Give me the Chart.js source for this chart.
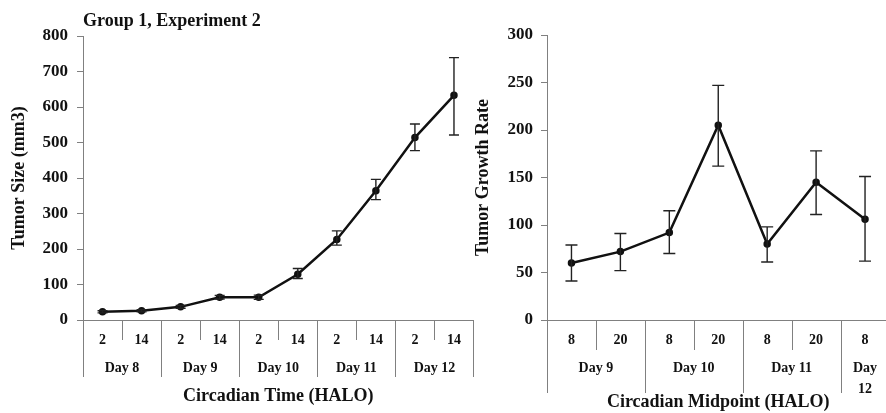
<!DOCTYPE html>
<html><head><meta charset="utf-8">
<script src="https://cdn.jsdelivr.net/npm/chart.js@4/dist/chart.umd.min.js"></script>
<style>
html,body{margin:0;padding:0;background:#fff;overflow:hidden;width:886px;height:413px;position:relative;}
#c1{position:absolute;left:0;top:0;}
#c2{position:absolute;left:460px;top:0;}
</style></head><body>
<canvas id="c1" width="480" height="413"></canvas>
<canvas id="c2" width="436" height="413"></canvas>
<script>
// ---- Left chart data: Tumor size ----
const sizeHours = ['2','14','2','14','2','14','2','14','2','14'];
const sizeDays = ['Day 8','Day 9','Day 10','Day 11','Day 12'];
const sizeDaySpans = [2,2,2,2,2];
const sizeMean = [23,26,37,64,64,129,227,364,514,633];
const sizeLow  = [20,23,33,59,58,117,211,339,477,521];
const sizeHigh = [26,29,41,69,70,145,251,396,552,739];

// ---- Right chart data: Tumor growth rate ----
const rateHours = ['8','20','8','20','8','20','8'];
const rateDays = ['Day 9','Day 10','Day 11',['Day','12']];
const rateDaySpans = [2,2,2,1];
const rateMean = [60,72,92,205,80,145,106];
const rateLow  = [41,52,70,162,61,111,62];
const rateHigh = [79,91,115,247,98,178,151];

const FONT = "'Liberation Serif','Times New Roman',serif";
const AXIS = '#808080';
const INK = '#111';

const errorBars = {
  id: 'errorBars',
  afterDatasetsDraw(chart, args, opts) {
    const {ctx} = chart;
    const xs = chart.scales.x, ys = chart.scales.y;
    ctx.save();
    ctx.strokeStyle = '#222';
    ctx.lineWidth = 1.4;
    opts.low.forEach((lo, i) => {
      const px = xs.getPixelForValue(i);
      const y1 = ys.getPixelForValue(lo), y2 = ys.getPixelForValue(opts.high[i]);
      ctx.beginPath();
      ctx.moveTo(px, y1); ctx.lineTo(px, y2);
      ctx.moveTo(px - opts.cap, y1); ctx.lineTo(px + opts.cap, y1);
      ctx.moveTo(px - opts.cap, y2); ctx.lineTo(px + opts.cap, y2);
      ctx.stroke();
    });
    ctx.restore();
  }
};

const groupAxis = {
  id: 'groupAxis',
  afterDraw(chart, args, opts) {
    const {ctx} = chart;
    const xs = chart.scales.x;
    const y0 = chart.chartArea.bottom;
    const n = xs.ticks.length;
    const half = (xs.getPixelForValue(1) - xs.getPixelForValue(0)) / 2;
    ctx.save();
    ctx.strokeStyle = AXIS;
    ctx.lineWidth = 1;
    ctx.beginPath();
    for (let i = 0; i <= n; i++) {
      const px = Math.round((i < n ? xs.getPixelForValue(i) - half : xs.getPixelForValue(n - 1) + half)) + 0.5;
      ctx.moveTo(px, y0); ctx.lineTo(px, y0 + opts.subLen);
    }
    ctx.stroke();
    ctx.fillStyle = INK;
    ctx.font = 'bold 14px ' + FONT;
    ctx.textAlign = 'center';
    ctx.textBaseline = 'middle';
    let idx = 0;
    ctx.beginPath();
    opts.days.forEach((d, k) => {
      const span = opts.spans[k];
      const start = xs.getPixelForValue(idx) - half;
      const end = xs.getPixelForValue(idx + span - 1) + half;
      const sx = Math.round(start) + 0.5, ex = Math.round(end) + 0.5;
      ctx.moveTo(sx, y0); ctx.lineTo(sx, y0 + opts.dayLen);
      if (k === opts.days.length - 1) { ctx.moveTo(ex, y0); ctx.lineTo(ex, y0 + opts.dayLen); }
      const lines = Array.isArray(d) ? d : [d];
      lines.forEach((t, j) => ctx.fillText(t, (start + end) / 2, y0 + opts.dayY + j * 21));
      idx += span;
    });
    ctx.stroke();
    ctx.restore();
  }
};

function makeChart(id, cfg) {
  return new Chart(document.getElementById(id), {
    type: 'line',
    data: {
      labels: cfg.hours,
      datasets: [{
        data: cfg.mean,
        borderColor: INK,
        backgroundColor: INK,
        borderWidth: 2.5,
        pointRadius: 2.5,
        pointStyle: 'circle',
        tension: 0
      }]
    },
    options: {
      responsive: false,
      animation: false,
      layout: { padding: { top: cfg.padTop, left: 0, right: 0, bottom: 0 } },
      plugins: {
        legend: { display: false },
        tooltip: { enabled: false },
        title: cfg.title ? {
          display: true, text: cfg.title, align: 'start', fullSize: false,
          color: INK, font: { family: FONT, size: 18, weight: 'bold' },
          padding: { top: 11, bottom: 3.4 }
        } : { display: false },
        errorBars: { low: cfg.low, high: cfg.high, cap: cfg.cap },
        groupAxis: { days: cfg.days, spans: cfg.spans, subLen: cfg.subLen, dayLen: cfg.dayLen, dayY: 48 }
      },
      scales: {
        x: {
          type: 'category',
          offset: true,
          grid: { display: false, drawTicks: false },
          border: { display: true, color: AXIS, width: 1 },
          ticks: { color: INK, font: { family: FONT, size: 14, weight: 'bold' }, padding: 12, autoSkip: false, maxRotation: 0 },
          title: { display: true, text: cfg.xTitle, color: INK, font: { family: FONT, size: 18, weight: 'bold' }, padding: { top: 0, bottom: cfg.xTitlePad } },
          afterFit(s) { s.height = 93; }
        },
        y: {
          min: 0, max: cfg.max,
          grid: { display: true, drawOnChartArea: false, drawTicks: true, tickLength: 6, color: AXIS },
          border: { display: true, color: AXIS, width: 1 },
          ticks: { stepSize: cfg.step, color: INK, font: { family: FONT, size: 17, weight: 'bold' }, padding: cfg.tickPad },
          title: { display: true, text: cfg.yTitle, color: INK, font: { family: FONT, size: 18, weight: 'bold' }, padding: { top: cfg.yTitlePad, bottom: 0 } },
          afterFit(s) { s.width = cfg.yWidth; }
        }
      }
    },
    plugins: [errorBars, groupAxis]
  });
}

makeChart('c1', {
  hours: sizeHours, mean: sizeMean, low: sizeLow, high: sizeHigh,
  days: sizeDays, spans: sizeDaySpans, max: 800, step: 100,
  title: 'Group 1, Experiment 2', padTop: 0,
  xTitle: 'Circadian Time (HALO)', yTitle: 'Tumor Size (mm3)',
  yWidth: 83, yTitlePad: 9, xTitlePad: 6, tickPad: 9, cap: 5, subLen: 20, dayLen: 57
});

makeChart('c2', {
  hours: rateHours, mean: rateMean, low: rateLow, high: rateHigh,
  days: rateDays, spans: rateDaySpans, max: 300, step: 50,
  title: null, padTop: 35,
  xTitle: 'Circadian Midpoint (HALO)', yTitle: 'Tumor Growth Rate',
  yWidth: 87, yTitlePad: 13, xTitlePad: 0, tickPad: 8, cap: 6, subLen: 30, dayLen: 73
});
</script>
</body></html>
